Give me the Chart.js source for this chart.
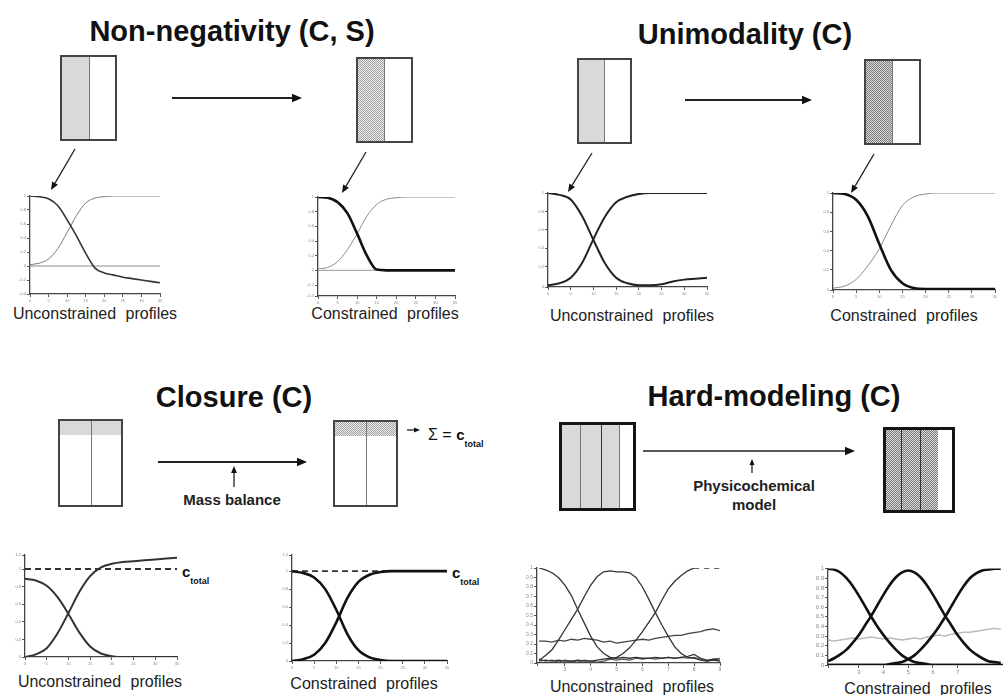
<!DOCTYPE html>
<html>
<head>
<meta charset="utf-8">
<script src="https://cdn.jsdelivr.net/npm/chart.js@4.4.1/dist/chart.umd.min.js"></script>
<style>
body { margin: 0; background: #fff; }
#page { position: relative; width: 1003px; height: 695px; overflow: hidden; font-family: "Liberation Sans", Arial, sans-serif; color: #111; }
.t { position: absolute; white-space: nowrap; line-height: 1; }
.title { font-size: 29px; font-weight: bold; transform: translateX(-50%); }
.lab { font-size: 16px; color: #222; word-spacing: 5px; transform: translateX(-50%); }
.note { font-size: 15px; font-weight: bold; color: #222; transform: translateX(-50%); }
.ct { font-size: 15px; font-weight: bold; }
.ct sub { font-size: 9px; vertical-align: -7px; }
.box { position: absolute; border: 2px solid #444; box-sizing: border-box; background: #fff; }
.box.thick { border: 3px solid #151515; }
.sh { position: absolute; top: 0; left: 0; background: #d9d9d9; }
.dot { position: absolute; top: 0; left: 0; background: repeating-conic-gradient(#a2a2a2 0 25%, #ececec 0 50%) 0 0 / 2px 2px; }
.dot.dk { background: repeating-conic-gradient(#7e7e7e 0 25%, #d8d8d8 0 50%) 0 0 / 2px 2px; }
.vl { position: absolute; top: 0; width: 1px; background: #777; }
canvas { position: absolute; }
svg { position: absolute; left: 0; top: 0; }
</style>
</head>
<body>
<div id="page">
  <div class="t title" style="left:232px;top:17px">Non-negativity (C, S)</div>
  <div class="t title" style="left:745px;top:20px">Unimodality (C)</div>
  <div class="t title" style="left:234px;top:383px">Closure (C)</div>
  <div class="t title" style="left:774px;top:382px">Hard-modeling (C)</div>

  <div class="box" style="left:60px;top:55px;width:57px;height:86px">
    <div class="sh" style="width:27px;height:82px"></div><div class="vl" style="left:27px;height:82px"></div>
  </div>
  <div class="box" style="left:356px;top:57px;width:57px;height:86px">
    <div class="dot" style="width:26px;height:82px"></div><div class="vl" style="left:26px;height:82px"></div>
  </div>
  <div class="box" style="left:577px;top:58px;width:55px;height:86px">
    <div class="sh" style="width:25px;height:82px"></div><div class="vl" style="left:25px;height:82px"></div>
  </div>
  <div class="box" style="left:864px;top:59px;width:57px;height:86px">
    <div class="dot dk" style="width:26px;height:82px"></div><div class="vl" style="left:26px;height:82px"></div>
  </div>
  <div class="box" style="left:58px;top:419px;width:65px;height:88px">
    <div class="sh" style="width:61px;height:14px"></div><div class="vl" style="left:31px;height:84px"></div>
  </div>
  <div class="box" style="left:333px;top:420px;width:65px;height:87px">
    <div class="dot" style="width:61px;height:14px"></div><div class="vl" style="left:31px;height:83px"></div>
  </div>
  <div class="box thick" style="left:559px;top:422px;width:77px;height:89px">
    <div class="sh" style="width:57px;height:83px"></div>
    <div class="vl" style="left:18px;height:83px"></div>
    <div class="vl" style="left:39px;height:83px;background:#333"></div>
    <div class="vl" style="left:57px;height:83px"></div>
  </div>
  <div class="box thick" style="left:883px;top:427px;width:72px;height:86px">
    <div class="dot dk" style="width:52px;height:80px"></div>
    <div class="vl" style="left:15px;height:80px;background:#333"></div>
    <div class="vl" style="left:34px;height:80px;background:#333"></div>
  </div>

  <div class="t note" style="left:232px;top:492px">Mass balance</div>
  <div class="t note" style="left:754px;top:478px">Physicochemical</div>
  <div class="t note" style="left:754px;top:497px">model</div>
  <div class="t" style="left:428px;top:427px;font-size:16px">&Sigma; = <span class="ct">c<sub>total</sub></span></div>
  <div class="t ct" style="left:182px;top:564px">c<sub>total</sub></div>
  <div class="t ct" style="left:452px;top:565px">c<sub>total</sub></div>

  <div class="t lab" style="left:95px;top:306px">Unconstrained profiles</div>
  <div class="t lab" style="left:385px;top:306px">Constrained profiles</div>
  <div class="t lab" style="left:632px;top:308px">Unconstrained profiles</div>
  <div class="t lab" style="left:904px;top:308px">Constrained profiles</div>
  <div class="t lab" style="left:100px;top:674px">Unconstrained profiles</div>
  <div class="t lab" style="left:364px;top:676px">Constrained profiles</div>
  <div class="t lab" style="left:632px;top:679px">Unconstrained profiles</div>
  <div class="t lab" style="left:918px;top:681px">Constrained profiles</div>
</div>
<script>
// profile x positions (first three constraint panels)
var xProf = [0, 2.5, 5, 7.5, 10, 12.5, 15, 17.5, 20, 22.5, 25, 27.5, 30, 32.5, 35];

// Non-negativity
var nnUncA = [1.0, 0.99, 0.96, 0.86, 0.66, 0.43, 0.18, -0.03, -0.1, -0.13, -0.16, -0.18, -0.2, -0.22, -0.24];
var nnUncB = [0.02, 0.04, 0.1, 0.25, 0.48, 0.72, 0.9, 0.97, 0.99, 1.0, 1.0, 1.0, 1.0, 1.0, 1.0];
var nnConA = [1.0, 0.99, 0.93, 0.78, 0.5, 0.2, 0.01, 0, 0, 0, 0, 0, 0, 0, 0];
var nnConB = [0.02, 0.04, 0.12, 0.28, 0.5, 0.74, 0.9, 0.97, 0.99, 1.0, 1.0, 1.0, 1.0, 1.0, 1.0];

// Unimodality
var uniUncA = [1.0, 0.98, 0.93, 0.75, 0.49, 0.24, 0.08, 0.02, 0.0, 0.0, 0.01, 0.04, 0.06, 0.07, 0.08];
var uniUncB = [0.0, 0.02, 0.08, 0.24, 0.5, 0.74, 0.9, 0.96, 0.99, 1.0, 1.0, 1.0, 1.0, 1.0, 1.0];
var uniConA = [1.0, 0.99, 0.93, 0.76, 0.47, 0.2, 0.06, 0.01, 0, 0, 0, 0, 0, 0, 0];
var uniConB = [0.01, 0.03, 0.1, 0.24, 0.42, 0.66, 0.87, 0.96, 0.99, 1.0, 1.0, 1.0, 1.0, 1.0, 1.0];

// Closure
var cTotal = 1;
var cloUncA = [0.89, 0.87, 0.81, 0.68, 0.49, 0.28, 0.12, 0.04, 0.01, 0, 0, 0, 0, 0, 0];
var cloUncB = [0.0, 0.03, 0.1, 0.27, 0.5, 0.74, 0.92, 1.02, 1.06, 1.08, 1.09, 1.1, 1.11, 1.12, 1.13];
var cloConA = [1.0, 0.98, 0.93, 0.8, 0.57, 0.3, 0.12, 0.04, 0.01, 0, 0, 0, 0, 0, 0];
var cloConB = [0.0, 0.02, 0.07, 0.2, 0.43, 0.7, 0.88, 0.96, 0.99, 1.0, 1.0, 1.0, 1.0, 1.0, 1.0];

// Hard-modeling, unconstrained
var hmXUnc = [2, 2.25, 2.5, 2.75, 3, 3.25, 3.5, 3.75, 4, 4.25, 4.5, 4.75, 5, 5.25, 5.5, 5.75, 6, 6.25, 6.5, 6.75, 7, 7.25, 7.5, 7.75, 8, 8.25, 8.5, 8.75, 9];
var hmUncA = [1.0, 0.98, 0.95, 0.9, 0.82, 0.71, 0.56, 0.42, 0.28, 0.17, 0.1, 0.06, 0.05, 0.06, 0.05, 0.06, 0.05, 0.05, 0.06, 0.05, 0.06, 0.05, 0.06, 0.07, 0.09, 0.05, 0.03, 0.04, 0.03];
var hmUncB = [0.03, 0.08, 0.14, 0.24, 0.35, 0.46, 0.57, 0.7, 0.82, 0.91, 0.96, 0.97, 0.96, 0.96, 0.95, 0.9, 0.8, 0.67, 0.53, 0.4, 0.28, 0.17, 0.1, 0.06, 0.05, 0.03, 0.02, 0.03, 0.02];
var hmUncC = [0.02, 0.03, 0.02, 0.03, 0.02, 0.02, 0.03, 0.02, 0.02, 0.03, 0.04, 0.05, 0.06, 0.1, 0.16, 0.24, 0.33, 0.43, 0.53, 0.66, 0.78, 0.86, 0.92, 0.97, 1.0, 1.0, 1.0, 1.0, 1.0];
var hmUncD = [0.23, 0.23, 0.22, 0.24, 0.23, 0.25, 0.24, 0.26, 0.25, 0.24, 0.22, 0.23, 0.21, 0.22, 0.23, 0.24, 0.25, 0.24, 0.26, 0.27, 0.28, 0.29, 0.29, 0.31, 0.32, 0.33, 0.35, 0.36, 0.34];
var hmUncE = [0.04, 0.02, 0.03, 0.01, 0.03, 0.02, 0.01, 0.03, 0.02, 0.01, 0.02, 0.04, 0.03, 0.04, 0.03, 0.05, 0.04, 0.05, 0.04, 0.05, 0.06, 0.05, 0.06, 0.05, 0.06, 0.04, 0.02, 0.04, 0.05];

// Hard-modeling, constrained
var hmXCon = [1.75, 2, 2.25, 2.5, 2.75, 3, 3.25, 3.5, 3.75, 4, 4.25, 4.5, 4.75, 5, 5.25, 5.5, 5.75, 6, 6.25, 6.5, 6.75, 7, 7.25, 7.5, 7.75, 8, 8.25, 8.5, 8.75];
var hmConA = [1.0, 0.99, 0.96, 0.9, 0.82, 0.72, 0.61, 0.5, 0.4, 0.31, 0.23, 0.16, 0.1, 0.06, 0.03, 0.02, 0.01, 0, 0, 0, 0, 0, 0, 0, 0, 0, 0, 0, 0];
var hmConB = [0.04, 0.07, 0.11, 0.16, 0.23, 0.31, 0.41, 0.51, 0.62, 0.73, 0.83, 0.91, 0.96, 0.98, 0.96, 0.91, 0.83, 0.73, 0.62, 0.51, 0.41, 0.31, 0.23, 0.16, 0.11, 0.07, 0.04, 0.03, 0.02];
var hmConC = [0, 0, 0, 0, 0, 0, 0, 0, 0, 0.0, 0.01, 0.02, 0.03, 0.06, 0.1, 0.16, 0.23, 0.31, 0.4, 0.5, 0.61, 0.72, 0.82, 0.9, 0.95, 0.98, 0.99, 1.0, 1.0];
var hmConD = [0.26, 0.25, 0.26, 0.27, 0.28, 0.27, 0.28, 0.29, 0.28, 0.27, 0.28, 0.27, 0.26, 0.27, 0.28, 0.27, 0.29, 0.3, 0.31, 0.3, 0.32, 0.33, 0.34, 0.34, 0.35, 0.36, 0.37, 0.38, 0.37];

var page = document.getElementById('page');

function line(xs, ys, color, w, extra) {
  var ds = {
    data: xs.map(function (x, i) { return { x: x, y: ys[i] }; }),
    borderColor: color, borderWidth: w, fill: false,
    cubicInterpolationMode: 'monotone', pointRadius: 0
  };
  return Object.assign(ds, extra || {});
}

function level(x0, x1, v, color, w, extra) {
  return line([x0, x1], [v, v], color, w, extra);
}

function plot(rect, xr, yr, sets, tk, intOnly) {
  var yW = 14, xH = 12, pt = 4, pr = 4;
  var L = rect[0], T = rect[1], R = rect[2], B = rect[3];
  var cv = document.createElement('canvas');
  cv.width = R - L + yW + pr;
  cv.height = B - T + pt + xH;
  cv.style.left = (L - yW) + 'px';
  cv.style.top = (T - pt) + 'px';
  page.appendChild(cv);
  var fmtX = function (v) { return intOnly && !Number.isInteger(v) ? '' : +v.toFixed(1); };
  var fmtY = function (v) { return +v.toFixed(1); };
  var axis = function (r, isX) {
    return {
      type: 'linear', min: r[0], max: r[1],
      afterFit: function (s) { if (isX) s.height = xH; else s.width = yW; },
      grid: { drawOnChartArea: false, tickLength: 3, color: '#555' },
      border: { color: '#444', width: 1.3 },
      ticks: { stepSize: r[2], font: { size: tk }, color: '#888', padding: 1, maxRotation: 0, autoSkip: false, callback: isX ? fmtX : fmtY }
    };
  };
  new Chart(cv, {
    type: 'line',
    data: { datasets: sets },
    options: {
      responsive: false, animation: false, devicePixelRatio: 1,
      layout: { padding: { top: pt, right: pr, left: 0, bottom: 0 } },
      plugins: { legend: { display: false }, tooltip: { enabled: false } },
      scales: { x: axis(xr, true), y: axis(yr, false) }
    }
  });
}

// Non-negativity
plot([30, 196, 160, 294], [0, 35, 5], [-0.4, 1, 0.2], [
  line(xProf, nnUncA, '#333', 1.6),
  line(xProf, nnUncB, '#7a7a7a', 1),
  level(0, 35, 0, '#8a8a8a', 1)
], 4);
plot([318, 197, 455, 296], [0, 35, 5], [-0.35, 1, 0.2], [
  line(xProf, nnConA, '#111', 2.6),
  line(xProf, nnConB, '#8a8a8a', 1),
  level(0, 35, 0, '#999', 1)
], 4);

// Unimodality
plot([548, 193, 707, 287], [0, 35, 5], [-0.02, 1, 0.2], [
  line(xProf, uniUncA, '#222', 2),
  line(xProf, uniUncB, '#222', 2)
], 4);
plot([833, 193, 995, 290], [0, 35, 5], [-0.01, 1, 0.2], [
  line(xProf, uniConA, '#111', 2.6),
  line(xProf, uniConB, '#8a8a8a', 1)
], 4);

// Closure
plot([25, 555, 177, 657], [0, 35, 5], [0, 1.16, 0.2], [
  line(xProf, cloUncA, '#333', 2),
  line(xProf, cloUncB, '#333', 2),
  level(0, 35, cTotal, '#333', 2, { borderDash: [6, 4] })
], 4);
plot([292, 555, 447, 661], [0, 35, 5], [0, 1.18, 0.2], [
  line(xProf, cloConA, '#111', 2.6),
  line(xProf, cloConB, '#111', 2.6),
  level(0, 35, cTotal, '#333', 1.6, { borderDash: [6, 4] })
], 4);

// Hard-modeling
plot([537, 568, 720, 663], [1.92, 9, 1], [0, 1, 0.1], [
  line(hmXUnc, hmUncA, '#333', 1.3, { cubicInterpolationMode: 'default', tension: 0 }),
  line(hmXUnc, hmUncB, '#333', 1.3, { cubicInterpolationMode: 'default', tension: 0 }),
  line(hmXUnc, hmUncC, '#333', 1.3, { cubicInterpolationMode: 'default', tension: 0,
    segment: { borderDash: function (c) { return c.p0.parsed.x >= 8 ? [5, 5] : undefined; } } }),
  line(hmXUnc, hmUncD, '#444', 1.3, { cubicInterpolationMode: 'default', tension: 0 }),
  line(hmXUnc, hmUncE, '#555', 1.2, { cubicInterpolationMode: 'default', tension: 0 })
], 5, true);
plot([828, 568, 1003, 665], [1.75, 8.84, 1], [0, 1, 0.1], [
  line(hmXCon, hmConA, '#111', 2.6),
  line(hmXCon, hmConB, '#111', 2.6),
  line(hmXCon, hmConC, '#111', 2.6),
  level(1.75, 8.84, 0, '#111', 2.4),
  line(hmXCon, hmConD, '#bbb', 1.5, { cubicInterpolationMode: 'default', tension: 0 })
], 6, true);

// schematic arrows
var NS = 'http://www.w3.org/2000/svg';
var svg = document.createElementNS(NS, 'svg');
svg.setAttribute('width', 1003);
svg.setAttribute('height', 695);
page.appendChild(svg);
function arrow(x1, y1, x2, y2, w, h) {
  var dx = x2 - x1, dy = y2 - y1, len = Math.sqrt(dx * dx + dy * dy);
  var ux = dx / len, uy = dy / len;
  var bx = x2 - ux * h, by = y2 - uy * h, hw = h * 0.42;
  var ln = document.createElementNS(NS, 'line');
  ln.setAttribute('x1', x1); ln.setAttribute('y1', y1);
  ln.setAttribute('x2', bx); ln.setAttribute('y2', by);
  ln.setAttribute('stroke', '#222'); ln.setAttribute('stroke-width', w);
  svg.appendChild(ln);
  var pg = document.createElementNS(NS, 'polygon');
  pg.setAttribute('points', [x2, y2, bx - uy * hw, by + ux * hw, bx + uy * hw, by - ux * hw].join(' '));
  pg.setAttribute('fill', '#111');
  svg.appendChild(pg);
}
arrow(172, 98, 302, 98, 2, 10);
arrow(75, 149, 51, 190, 1.3, 8);
arrow(366, 152, 342, 193, 1.3, 8);
arrow(685, 100, 812, 100, 2, 10);
arrow(592, 153, 568, 192, 1.3, 8);
arrow(874, 154, 851, 193, 1.3, 8);
arrow(158, 462, 307, 462, 1.8, 10);
arrow(234, 487, 234, 466, 1.3, 7);
arrow(643, 451, 855, 451, 1.5, 10);
arrow(752, 473, 752, 459, 1.3, 6);
arrow(407, 430, 420, 430, 1.3, 6);
</script>
</body>
</html>
